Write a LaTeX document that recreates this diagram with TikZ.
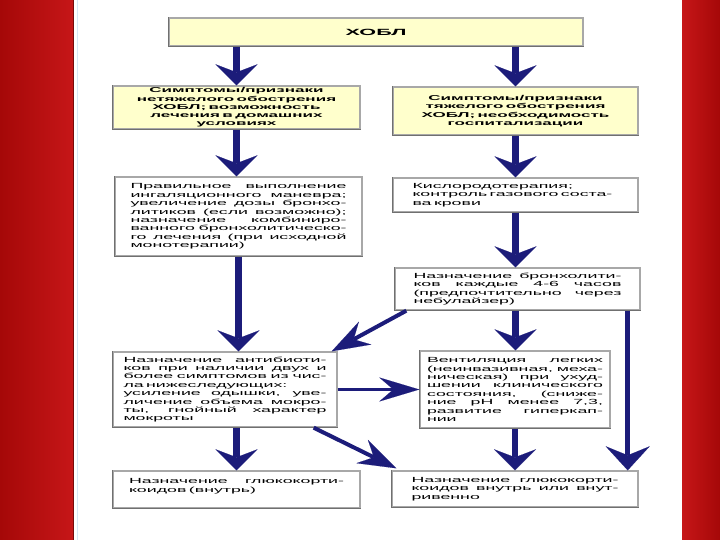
\documentclass[tikz,border=0pt]{standalone}
\usepackage{fontspec}
\setmainfont{Liberation Sans}[FakeStretch=2.4]
\usetikzlibrary{arrows.meta}
\definecolor{navy}{RGB}{28,28,122}
\definecolor{boxyellow}{RGB}{255,255,204}
\definecolor{boxedge}{RGB}{168,168,168}
\definecolor{boxshade}{RGB}{112,112,112}
\definecolor{redA}{RGB}{165,8,8}
\definecolor{redB}{RGB}{198,22,24}
\newlength\jw
\newcommand\jl[1]{\leavevmode\hbox to \jw{\spaceskip=3.6pt plus 1fil\relax #1}\\}
\begin{document}
\begin{tikzpicture}[x=1pt,y=-1pt,
  box/.style={draw=boxedge, line width=1.4pt, inner sep=0pt, align=left,
    font=\fontsize{7.4}{8.4}\selectfont},
  ybox/.style={box, fill=boxyellow, align=center,
    font=\bfseries\fontsize{7.1}{8.3}\selectfont},
  tw/.style={text width=#1, execute at begin node={\setlength\jw{#1}}},
  shadeedge/.style={draw=boxshade, line width=1.4pt},
  varr/.style={draw=navy, line width=6.5pt,
    -{Stealth[length=21pt,width=42pt,inset=8pt,line width=0.1pt]}},
  larr/.style={draw=navy, line width=4.5pt,
    -{Stealth[length=24pt,width=44pt,inset=9pt,line width=0.1pt]}},
  harr/.style={draw=navy, line width=3.5pt,
    -{Stealth[length=40pt,width=24pt,inset=14pt,line width=0.1pt]}},
  darr/.style={draw=navy, line width=4pt,
    -{Stealth[length=38pt,width=26pt,inset=13pt,line width=0.1pt]}}
]
\useasboundingbox (0,0) rectangle (720,540);
\fill[white] (0,0) rectangle (720,540);
\shade[left color=redA, right color=redB] (0,0) rectangle (73,540);
\draw[draw={rgb,255:red,120;green,10;blue,10}, line width=1pt] (73.5,0) -- (73.5,540);
\draw[draw={rgb,255:red,215;green,230;blue,245}, line width=0.8pt] (77,0) -- (77,540);
\shade[left color=redB, right color=redA] (682,0) rectangle (720,540);

% boxes
\node[ybox, minimum width=414, minimum height=28,
  font=\bfseries\fontsize{9}{10}\selectfont] (top) at (376,32) {ХОБЛ};
\node[ybox, minimum width=247, minimum height=43, text width=232] (ls) at (236.5,107.5)
  {Симптомы/признаки\\нетяжелого обострения\\ХОБЛ; возможность\\лечения в домашних\\условиях};
\node[ybox, minimum width=245, minimum height=48, text width=232] (rs) at (515.5,111)
  {Симптомы/признаки\\тяжелого обострения\\ХОБЛ; необходимость\\госпитализации};
\node[box, minimum width=247, minimum height=79, tw=216pt] (l2) at (238.5,216.5)
  {\jl{Правильное выполнение}\jl{ингаляционного маневра;}\jl{увеличение дозы бронхо-}\jl{литиков (если возможно);}\jl{назначение комбиниро-}\jl{ванного бронхолитическо-}\jl{го лечения (при исходной}монотерапии)};
\node[box, minimum width=245, minimum height=34, tw=206pt] (r2) at (515.5,195)
  {\mbox{Кислородотерапия;}\\\mbox{контроль газового соста-}\\\mbox{ва крови}};
\node[box, minimum width=245, minimum height=42, tw=208pt] (r3) at (517.5,289)
  {\jl{Назначение бронхолити-}\jl{ков каждые 4-6 часов}\jl{(предпочтительно через}небулайзер)};
\node[box, minimum width=224, minimum height=75, tw=203pt] (l3) at (225,389.5)
  {\jl{Назначение антибиоти-}\jl{ков при наличии двух и}\jl{более симптомов из чис-}ла нижеследующих:\\\jl{усиление одышки, уве-}\jl{личение объема мокро-}\jl{ты, гнойный характер}мокроты};
\node[box, minimum width=190, minimum height=77, tw=176pt] (r4) at (515,389.5)
  {\jl{Вентиляция легких}\jl{(неинвазивная, меха-}\jl{ническая) при ухуд-}\jl{шении клинического}\jl{состояния, (сниже-}\jl{ние pH менее 7,3,}\jl{развитие гиперкап-}нии};
\node[box, minimum width=247, minimum height=37, tw=215pt] (l4) at (236.5,489.5)
  {\jl{Назначение глюкокорти-}коидов (внутрь)\\\mbox{}};
\node[box, minimum width=246, minimum height=36, tw=207pt] (r5) at (515,489)
  {\jl{Назначение глюкокорти-}\jl{коидов внутрь или внут-}ривенно};

\foreach \n in {top,ls,rs,l2,r2,r3,l3,r4,l4,r5}
  \draw[shadeedge] (\n.north west) -- (\n.south west) -- (\n.south east);

% connectors
\draw[varr] (top.south -| ls.north) -- (ls.north);
\draw[varr] (top.south -| rs.north) -- (rs.north);
\draw[varr] (ls.south) -- (ls.south |- l2.north);
\draw[varr] (rs.south) -- (rs.south |- r2.north);
\draw[varr] (r2.south) -- (r2.south |- r3.north);
\draw[varr] (l2.south) -- (l2.south |- l3.north);
\draw[varr] (r2.south |- r3.south) -- (r2.south |- r4.north);
\draw[varr] (l4.north |- l3.south) -- (l4.north);
\draw[varr] (r4.south) -- (r4.south |- r5.north);
\draw[harr] (l3.east) -- (r4.west);
\draw[darr] ([xshift=12pt]r3.south west) -- ([xshift=-6pt]l3.north east);
\draw[darr] ([xshift=-24pt]l3.south east) -- ([xshift=5pt,yshift=2pt]r5.north west);
\draw[larr] ([xshift=-11pt]r5.north east |- r3.south) -- ([xshift=-11pt]r5.north east);
\end{tikzpicture}
\end{document}
